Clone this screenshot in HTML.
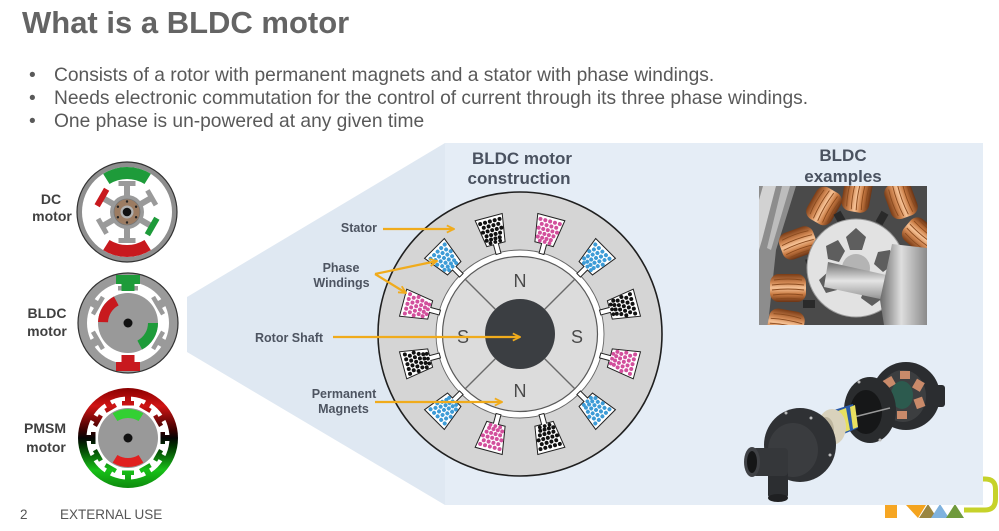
<!DOCTYPE html>
<html>
<head>
<meta charset="utf-8">
<style>
html,body{margin:0;padding:0;background:#fff;}
body{width:999px;height:531px;overflow:hidden;}
svg{display:block;}
</style>
</head>
<body>
<svg width="999" height="531" viewBox="0 0 999 531" xmlns="http://www.w3.org/2000/svg" xmlns:xlink="http://www.w3.org/1999/xlink" font-family="'Liberation Sans', Arial, sans-serif">
<defs>
  <g id="sl"><path d="M-14,-121 L14,-121 L9.5,-93 L2.5,-93 L2.5,-83 L-2.5,-83 L-2.5,-93 L-9.5,-93 Z" fill="#fff" stroke="#222" stroke-width="1"/></g>
  <g id="dots">
    <circle cx="-10" cy="-116.5" r="2"/><circle cx="-5" cy="-116.5" r="2"/><circle cx="0" cy="-116.5" r="2"/><circle cx="5" cy="-116.5" r="2"/><circle cx="10" cy="-116.5" r="2"/>
    <circle cx="-7.5" cy="-112" r="2"/><circle cx="-2.5" cy="-112" r="2"/><circle cx="2.5" cy="-112" r="2"/><circle cx="7.5" cy="-112" r="2"/>
    <circle cx="-9.5" cy="-107.5" r="2"/><circle cx="-4.75" cy="-107.5" r="2"/><circle cx="0" cy="-107.5" r="2"/><circle cx="4.75" cy="-107.5" r="2"/><circle cx="9.5" cy="-107.5" r="2"/>
    <circle cx="-7" cy="-103" r="2"/><circle cx="-2.3" cy="-103" r="2"/><circle cx="2.3" cy="-103" r="2"/><circle cx="7" cy="-103" r="2"/>
    <circle cx="-8" cy="-98.7" r="2"/><circle cx="-3.5" cy="-98.7" r="2"/><circle cx="1" cy="-98.7" r="2"/><circle cx="5.5" cy="-98.7" r="2"/>
    <circle cx="-5" cy="-95.3" r="1.9"/><circle cx="0" cy="-95.3" r="1.9"/><circle cx="5" cy="-95.3" r="1.9"/>
  </g>
  <marker id="ah" viewBox="0 0 10 10" refX="9" refY="5" markerWidth="9" markerHeight="9" markerUnits="userSpaceOnUse" orient="auto">
    <path d="M1,1 L9,5 L1,9" fill="none" stroke="#f0ab1c" stroke-width="2"/>
  </marker>
  <linearGradient id="pm" gradientUnits="userSpaceOnUse" x1="0" y1="388" x2="0" y2="488">
    <stop offset="0" stop-color="#8a0000"/>
    <stop offset="0.18" stop-color="#d01414"/>
    <stop offset="0.42" stop-color="#3a0000"/>
    <stop offset="0.5" stop-color="#050505"/>
    <stop offset="0.58" stop-color="#003000"/>
    <stop offset="0.82" stop-color="#18c018"/>
    <stop offset="1" stop-color="#0e8a0e"/>
  </linearGradient>
  <mask id="pmMask" maskUnits="userSpaceOnUse" x="70" y="380" width="120" height="120">
    <circle cx="128" cy="438" r="50" fill="#fff"/>
    <circle cx="128" cy="438" r="41.5" fill="#000"/>
    <g fill="#fff">
      <g id="pmt"><rect x="125" y="395" width="6" height="9"/><rect x="122" y="401" width="12" height="4.5"/></g>
      <use xlink:href="#pmt" transform="rotate(30 128 438)"/>
      <use xlink:href="#pmt" transform="rotate(60 128 438)"/>
      <use xlink:href="#pmt" transform="rotate(90 128 438)"/>
      <use xlink:href="#pmt" transform="rotate(120 128 438)"/>
      <use xlink:href="#pmt" transform="rotate(150 128 438)"/>
      <use xlink:href="#pmt" transform="rotate(180 128 438)"/>
      <use xlink:href="#pmt" transform="rotate(210 128 438)"/>
      <use xlink:href="#pmt" transform="rotate(240 128 438)"/>
      <use xlink:href="#pmt" transform="rotate(270 128 438)"/>
      <use xlink:href="#pmt" transform="rotate(300 128 438)"/>
      <use xlink:href="#pmt" transform="rotate(330 128 438)"/>
    </g>
  </mask>
  <linearGradient id="cu" x1="0" y1="0" x2="0" y2="1">
    <stop offset="0" stop-color="#7a3c16"/>
    <stop offset="0.3" stop-color="#cf8550"/>
    <stop offset="0.5" stop-color="#f6c296"/>
    <stop offset="0.72" stop-color="#c97a42"/>
    <stop offset="1" stop-color="#6b3414"/>
  </linearGradient>
  <linearGradient id="silver" x1="0" y1="0" x2="0" y2="1">
    <stop offset="0" stop-color="#6e6e6e"/>
    <stop offset="0.4" stop-color="#e4e4e4"/>
    <stop offset="0.7" stop-color="#a8a8a8"/>
    <stop offset="1" stop-color="#5a5a5a"/>
  </linearGradient>
  <linearGradient id="silverH" x1="0" y1="0" x2="1" y2="0">
    <stop offset="0" stop-color="#6a6a6a"/>
    <stop offset="0.45" stop-color="#dedede"/>
    <stop offset="1" stop-color="#8a8a8a"/>
  </linearGradient>
  <g id="coil">
    <rect x="-18" y="-14" width="36" height="28" rx="9" fill="url(#cu)"/>
    <g stroke="#8a4a1e" stroke-width="0.9" fill="none">
      <path d="M-14,-8 Q0,-10 14,-8"/><path d="M-16,-3 Q0,-5 16,-3"/><path d="M-16,2 Q0,0 16,2"/><path d="M-15,7 Q0,5 15,7"/><path d="M-12,11 Q0,9.5 12,11"/>
    </g>
  </g>
  <clipPath id="ph1"><rect x="759" y="186" width="168" height="139"/></clipPath>
</defs>

<!-- Title -->
<text x="22" y="33" font-size="31" font-weight="bold" fill="#646464">What is a BLDC motor</text>

<!-- Bullets -->
<g font-size="19.2" fill="#595959">
  <text x="29" y="81">•</text><text x="54" y="81">Consists of a rotor with permanent magnets and a stator with phase windings.</text>
  <text x="29" y="104">•</text><text x="54" y="104">Needs electronic commutation for the control of current through its three phase windings.</text>
  <text x="29" y="127">•</text><text x="54" y="127">One phase is un-powered at any given time</text>
</g>

<!-- NXP logo (behind panel) -->
<g>
  <rect x="885" y="505" width="12" height="13" fill="#f6a623"/>
  <polygon points="906,505 926,505 918,518" fill="#f4a41e"/>
  <polygon points="919,518 928,504 937,518" fill="#9a8640"/>
  <polygon points="931,518 940,504 949,518" fill="#7fb2de"/>
  <polygon points="946,518 955,504 964,518" fill="#6f9a3c"/>
  <path d="M964,510 L985,510 Q995.5,510 995.5,499 L995.5,489 Q995.5,479 985,479 L972,479" fill="none" stroke="#c6d22a" stroke-width="5"/>
</g>

<!-- Panel -->
<polygon points="187,297 445,143 445,505 187,352" fill="#dfe8f2"/>
<rect x="445" y="143" width="538" height="362" fill="#e5edf6"/>

<!-- Left motor labels -->
<g font-size="14" font-weight="bold" fill="#404040" text-anchor="middle">
  <text x="51" y="204">DC</text><text x="52" y="221">motor</text>
  <text x="47" y="318">BLDC</text><text x="47" y="336">motor</text>
  <text x="45" y="433">PMSM</text><text x="46" y="452">motor</text>
</g>

<!-- DC motor -->
<g>
  <circle cx="127" cy="212" r="50" fill="#8e8e8e" stroke="#333" stroke-width="1.2"/>
  <circle cx="127" cy="212" r="45" fill="#fff"/>
  <path d="M103.15,173.84 A45,45 0 0 1 150.85,173.84 L144.49,184.02 A33,33 0 0 0 109.51,184.02 Z" fill="#1e9b3a"/>
  <path d="M103.15,250.16 A45,45 0 0 0 150.85,250.16 L144.49,239.98 A33,33 0 0 1 109.51,239.98 Z" fill="#c8191e"/>
  <g fill="#9a9a9a">
    <circle cx="127" cy="212" r="17"/>
    <g id="dct"><rect x="124" y="184" width="6" height="13"/><rect x="118.5" y="181" width="17" height="5"/></g>
    <use xlink:href="#dct" transform="rotate(60 127 212)"/>
    <use xlink:href="#dct" transform="rotate(180 127 212)"/>
    <use xlink:href="#dct" transform="rotate(240 127 212)"/>
    <g transform="rotate(300 127 212)"><rect x="124" y="184" width="6" height="13"/><rect x="117.5" y="180" width="19" height="6" fill="#c8191e"/></g>
    <g transform="rotate(120 127 212)"><rect x="124" y="184" width="6" height="13"/><rect x="117.5" y="180" width="19" height="6" fill="#1e9b3a"/></g>
  </g>
  <circle cx="127" cy="212" r="13" fill="#9c7c62" stroke="#777" stroke-width="0.8"/>
  <g fill="#222">
    <circle cx="127" cy="201.5" r="1.2"/><circle cx="136.1" cy="206.75" r="1.2"/><circle cx="136.1" cy="217.25" r="1.2"/>
    <circle cx="127" cy="222.5" r="1.2"/><circle cx="117.9" cy="217.25" r="1.2"/><circle cx="117.9" cy="206.75" r="1.2"/>
  </g>
  <circle cx="127" cy="212" r="6.5" fill="#b0b0b0"/>
  <circle cx="127" cy="212" r="4.3" fill="#111"/>
</g>

<!-- BLDC small motor -->
<g>
  <circle cx="128" cy="323" r="50" fill="#9a9a9a" stroke="#333" stroke-width="1.2"/>
  <circle cx="128" cy="323" r="41" fill="#fff"/>
  <g fill="#9a9a9a">
    <g id="bt"><rect x="124" y="280" width="8" height="9"/><rect x="118" y="286" width="20" height="4.5"/></g>
    <use xlink:href="#bt" transform="rotate(60 128 323)"/>
    <use xlink:href="#bt" transform="rotate(120 128 323)"/>
    <use xlink:href="#bt" transform="rotate(240 128 323)"/>
    <use xlink:href="#bt" transform="rotate(300 128 323)"/>
  </g>
  <g fill="#1e9b3a"><rect x="116" y="275" width="24" height="9"/><rect x="121.5" y="283" width="13" height="8"/></g>
  <g fill="#c8191e" transform="rotate(180 128 323)"><rect x="116" y="275" width="24" height="9"/><rect x="121.5" y="283" width="13" height="8"/></g>
  <circle cx="128" cy="323" r="30" fill="#999"/>
  <path d="M98.02,321.95 A30,30 0 0 1 113.92,296.51 L118.61,305.34 A20,20 0 0 0 108.01,322.30 Z" fill="#c8191e"/>
  <path d="M158,323 A30,30 0 0 1 142.08,349.49 L137.39,340.66 A20,20 0 0 0 148,323 Z" fill="#1e9b3a"/>
  <circle cx="128" cy="323" r="4.5" fill="#111"/>
</g>

<!-- PMSM -->
<g>
  <circle cx="128" cy="438" r="50" fill="#fff"/>
  <rect x="70" y="380" width="120" height="120" fill="url(#pm)" mask="url(#pmMask)"/>
  <circle cx="128" cy="438" r="30" fill="#999"/>
  <path d="M112.63,413.41 A29,29 0 0 1 143.37,413.41 L138.6,421.04 A20,20 0 0 0 117.4,421.04 Z" fill="#33d033"/>
  <path d="M112.63,462.59 A29,29 0 0 0 143.37,462.59 L138.6,454.96 A20,20 0 0 1 117.4,454.96 Z" fill="#e02020"/>
  <circle cx="128" cy="438" r="4.5" fill="#111"/>
</g>

<!-- Center diagram headers -->
<g font-size="17" font-weight="bold" fill="#4a5260" text-anchor="middle">
  <text x="522" y="164">BLDC motor</text>
  <text x="519" y="184">construction</text>
  <text x="843" y="161">BLDC</text>
  <text x="843" y="182">examples</text>
</g>

<!-- Center BLDC motor -->
<g>
  <circle cx="520" cy="334" r="142" fill="#d5d5d5" stroke="#1f1f1f" stroke-width="1.6"/>
  <circle cx="520" cy="334" r="84" fill="#fff" stroke="#666" stroke-width="0.9"/>
  <g transform="translate(520,334) rotate(15)"><use xlink:href="#sl"/><use xlink:href="#dots" fill="#d24f9c"/></g>
  <g transform="translate(520,334) rotate(45)"><use xlink:href="#sl"/><use xlink:href="#dots" fill="#3d9bd6"/></g>
  <g transform="translate(520,334) rotate(75)"><use xlink:href="#sl"/><use xlink:href="#dots" fill="#111"/></g>
  <g transform="translate(520,334) rotate(105)"><use xlink:href="#sl"/><use xlink:href="#dots" fill="#d24f9c"/></g>
  <g transform="translate(520,334) rotate(135)"><use xlink:href="#sl"/><use xlink:href="#dots" fill="#3d9bd6"/></g>
  <g transform="translate(520,334) rotate(165)"><use xlink:href="#sl"/><use xlink:href="#dots" fill="#111"/></g>
  <g transform="translate(520,334) rotate(195)"><use xlink:href="#sl"/><use xlink:href="#dots" fill="#d24f9c"/></g>
  <g transform="translate(520,334) rotate(225)"><use xlink:href="#sl"/><use xlink:href="#dots" fill="#3d9bd6"/></g>
  <g transform="translate(520,334) rotate(255)"><use xlink:href="#sl"/><use xlink:href="#dots" fill="#111"/></g>
  <g transform="translate(520,334) rotate(285)"><use xlink:href="#sl"/><use xlink:href="#dots" fill="#d24f9c"/></g>
  <g transform="translate(520,334) rotate(315)"><use xlink:href="#sl"/><use xlink:href="#dots" fill="#3d9bd6"/></g>
  <g transform="translate(520,334) rotate(345)"><use xlink:href="#sl"/><use xlink:href="#dots" fill="#111"/></g>
  <circle cx="520" cy="334" r="77.5" fill="#dcdcdc" stroke="#5a5a5a" stroke-width="1.2"/>
  <g stroke="#6a6a6a" stroke-width="1.4">
    <line x1="495.3" y1="309.3" x2="465.6" y2="279.6"/>
    <line x1="544.7" y1="309.3" x2="574.4" y2="279.6"/>
    <line x1="495.3" y1="358.7" x2="465.6" y2="388.4"/>
    <line x1="544.7" y1="358.7" x2="574.4" y2="388.4"/>
  </g>
  <circle cx="520" cy="334" r="35" fill="#3b3e42"/>
  <g font-size="18" fill="#4a4a4a" text-anchor="middle">
    <text x="520" y="287">N</text>
    <text x="520" y="397">N</text>
    <text x="463" y="343">S</text>
    <text x="577" y="343">S</text>
  </g>
</g>

<!-- Labels and arrows -->
<g font-size="12.5" font-weight="bold" fill="#4d5461">
  <text x="377" y="232" text-anchor="end">Stator</text>
  <text x="341" y="272" text-anchor="middle">Phase</text>
  <text x="341.5" y="287" text-anchor="middle">Windings</text>
  <text x="255" y="342">Rotor Shaft</text>
  <text x="344" y="398" text-anchor="middle">Permanent</text>
  <text x="343.5" y="413" text-anchor="middle">Magnets</text>
</g>
<g stroke="#f0ab1c" stroke-width="2.2" fill="none">
  <line x1="383" y1="229" x2="454" y2="229" marker-end="url(#ah)"/>
  <line x1="375" y1="274" x2="437" y2="261" marker-end="url(#ah)"/>
  <line x1="375" y1="274" x2="406" y2="293" marker-end="url(#ah)"/>
  <line x1="333" y1="337" x2="520" y2="337" marker-end="url(#ah)"/>
  <line x1="375" y1="402" x2="502" y2="402" marker-end="url(#ah)"/>
</g>

<!-- Photo 1: motor internals -->
<g clip-path="url(#ph1)">
  <rect x="759" y="186" width="168" height="139" fill="#4a4a4a"/>
  <polygon points="759,186 796,186 776,250 768,325 759,325" fill="#8d8d8d"/>
  <polygon points="763,186 776,186 762,240 759,250 759,200" fill="#d2d2d2"/>
  <polygon points="782,186 790,186 771,250 767,248" fill="#bdbdbd"/>
  <!-- top coils -->
  <use xlink:href="#coil" transform="translate(824,206) rotate(-60)"/>
  <use xlink:href="#coil" transform="translate(857,194) rotate(-80)"/>
  <use xlink:href="#coil" transform="translate(901,200) rotate(-110)"/>
  <use xlink:href="#coil" transform="translate(921,236) rotate(-140)"/>
  <!-- left coils -->
  <use xlink:href="#coil" transform="translate(798,243) rotate(-20)"/>
  <use xlink:href="#coil" transform="translate(788,288) rotate(0)"/>
  <use xlink:href="#coil" transform="translate(786,324) rotate(10)"/>
  <!-- dark tooth holders -->
  <g fill="#2a2a2a">
    <rect x="806" y="258" width="12" height="8" transform="rotate(-15 812 262)"/>
    <rect x="803" y="300" width="12" height="8"/>
    <rect x="836" y="212" width="8" height="12" transform="rotate(-30 840 218)"/>
    <rect x="878" y="212" width="8" height="12" transform="rotate(30 882 218)"/>
  </g>
  <!-- lamination disk -->
  <circle cx="856" cy="268" r="49" fill="#e2e2e2"/>
  <circle cx="856" cy="268" r="49" fill="none" stroke="#9a9a9a" stroke-width="1"/>
  <g fill="#5e5e5e">
    <path d="M856,228 L866,237 L862,250 L850,250 L846,237 Z"/>
    <path d="M890,250 L894,264 L883,272 L874,264 L878,252 Z"/>
    <path d="M883,298 L872,306 L861,298 L865,287 L878,287 Z"/>
    <path d="M826,293 L819,280 L829,271 L840,278 L837,290 Z"/>
    <path d="M826,246 L838,240 L845,251 L839,262 L828,259 Z"/>
  </g>
  <circle cx="856" cy="268" r="14" fill="#b4b4b4"/>
  <polygon points="828,262 927,284 927,309 824,287" fill="url(#silver)"/>
  <polygon points="892,244 927,248 927,325 884,325 880,300" fill="url(#silverH)"/>
</g>

<!-- Photo 2: pump exploded view -->
<g>
  <!-- motor housing -->
  <ellipse cx="906" cy="396" rx="34" ry="34" fill="#2b2d30"/>
  <rect x="932" y="385" width="13" height="22" rx="3" fill="#2b2d30"/>
  <ellipse cx="903" cy="396" rx="23" ry="26" fill="#3c3e40"/>
  <g fill="#c98a6a">
    <rect x="884" y="378" width="10" height="9" transform="rotate(-30 889 382)"/>
    <rect x="900" y="371" width="10" height="8"/>
    <rect x="914" y="380" width="9" height="10" transform="rotate(30 918 385)"/>
    <rect x="915" y="398" width="9" height="10" transform="rotate(-20 919 403)"/>
    <rect x="897" y="411" width="10" height="8"/>
    <rect x="883" y="400" width="9" height="10" transform="rotate(20 887 405)"/>
  </g>
  <ellipse cx="902" cy="395" rx="11" ry="14" fill="#2c5a4e"/>
  <!-- middle flange -->
  <ellipse cx="870" cy="410" rx="26" ry="33" fill="#2a2c2e"/>
  <ellipse cx="866" cy="412" rx="16" ry="22" fill="#161718"/>
  <line x1="850" y1="418" x2="890" y2="408" stroke="#9a9a9a" stroke-width="1.5"/>
  <!-- striped rotor -->
  <polygon points="834,410 853,404 858,428 839,436" fill="#2a5aa8"/>
  <polygon points="838,411 846,408 850,430 842,433" fill="#e8e060"/>
  <polygon points="850,407 855,405 858,427 853,429" fill="#e8e060"/>
  <!-- impeller -->
  <ellipse cx="832" cy="427" rx="14" ry="18" fill="#d9d2bc"/>
  <ellipse cx="826" cy="430" rx="8" ry="13" fill="#bdb59e"/>
  <!-- volute body -->
  <ellipse cx="800" cy="445" rx="36" ry="37" fill="#2f3134"/>
  <ellipse cx="793" cy="450" rx="25" ry="27" fill="#3a3c3f"/>
  <!-- outlet down pipe -->
  <rect x="768" y="465" width="20" height="33" rx="3" fill="#2c2e31"/>
  <ellipse cx="778" cy="498" rx="10" ry="4" fill="#1f2022"/>
  <!-- inlet pipe -->
  <rect x="752" y="448" width="36" height="28" rx="4" fill="#35373a"/>
  <ellipse cx="752" cy="462" rx="8" ry="15" fill="#404246"/>
  <ellipse cx="752" cy="462" rx="5" ry="11" fill="#151617"/>
  <g fill="#bbb"><circle cx="786" cy="413" r="1.5"/><circle cx="811" cy="418" r="1.5"/><circle cx="830" cy="455" r="1.5"/><circle cx="859" cy="382" r="1.5"/><circle cx="880" cy="440" r="1.5"/></g>
</g>

<!-- Footer -->
<g font-size="13.5" fill="#555">
  <text x="20" y="519">2</text>
  <text x="60" y="519">EXTERNAL USE</text>
</g>
</svg>
</body>
</html>
